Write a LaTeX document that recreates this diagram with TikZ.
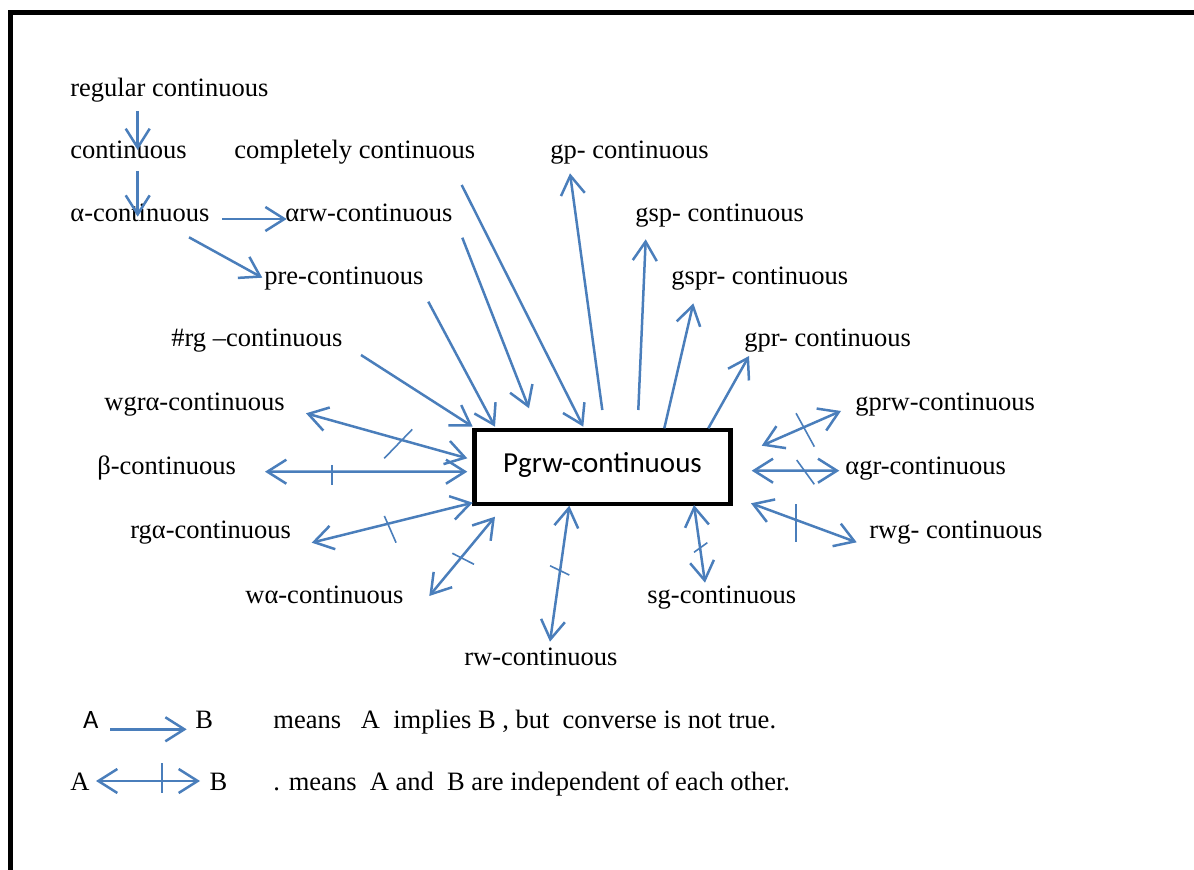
\documentclass[tikz,border=0pt]{standalone}
\usepackage{fontspec}
\setmainfont{Liberation Serif}
\newfontfamily\calibri{Carlito}
\usetikzlibrary{arrows.meta,calc}
\definecolor{linkblue}{HTML}{4A7EBB}
\newcommand\lblfont{\fontsize{13.25}{16}\selectfont}
\tikzset{
  lbl/.style={inner sep=0pt, anchor=base west, font=\lblfont},
  mainbox/.style={draw=black, line width=2.25pt, minimum width=128pt, minimum height=37pt, inner sep=0pt,
    text height=8pt, text depth=2pt, font=\calibri\fontsize{14.5}{17}\selectfont},
  impl/.style={-{Straight Barb[length=9.5pt,width=12pt]}, line width=1.25pt, draw=linkblue},
  indep/.style={{Straight Barb[length=9.5pt,width=12pt]}-{Straight Barb[length=9.5pt,width=12pt]}, line width=1.25pt, draw=linkblue},
  tickmark/.style={line width=0.8pt, draw=linkblue},
  outerframe/.style={line width=2.5pt, draw=black}
}

\begin{document}
\begin{tikzpicture}[x=0.5pt, y=-0.5pt]
  \useasboundingbox (0,0) rectangle (1194,870);
  \draw[outerframe] (10.5,870) -- (10.5,12.5) -- (1194,12.5);

  % left side
  \node[lbl] (reg) at (70,97) {regular continuous};
  \node[lbl] (cont) at (70,159) {continuous};
  \node[lbl] (alpha) at (70,222) {α-continuous};
  \node[lbl] (arw) at (285,222) {αrw-continuous};
  \node[lbl] (pre) at (264,285) {pre-continuous};
  \node[lbl] (comp) at (234,159) {completely continuous};
  \node[lbl] (hrg) at (171,347) {\#rg --continuous};
  \node[lbl] (wgra) at (104,411) {wgrα-continuous};
  \node[lbl] (beta) at (97,475) {β-continuous};
  \node[lbl] (rga) at (130,539) {rgα-continuous};
  \node[lbl] (wa) at (245,604) {wα-continuous};
  \node[lbl] (rw) at (464,666) {rw-continuous};
  \node[lbl] (sg) at (647,604) {sg-continuous};
  % right side
  \node[lbl] (gp) at (550,159) {gp- continuous};
  \node[lbl] (gsp) at (635,222) {gsp- continuous};
  \node[lbl] (gspr) at (671,285) {gspr- continuous};
  \node[lbl] (gpr) at (744,347) {gpr- continuous};
  \node[lbl] (gprw) at (855,411) {gprw-continuous};
  \node[lbl] (agr) at (845,475) {αgr-continuous};
  \node[lbl] (rwg) at (869,539) {rwg- continuous};

  \node[mainbox] (box) at (602.5,467) {Pgrw-continuous};

  % implications
  \draw[impl] ($(reg.base west)+(67.7,14)$) -- ($(cont.base west)+(67.7,-9)$);
  \draw[impl] ($(cont.base west)+(67.7,12)$) -- ($(alpha.base west)+(67.7,-5.3)$);
  \draw[impl] ($(alpha.base west)+(152.3,-3)$) -- ($(arw.base west)+(1.7,-3)$);
  \draw[impl] ($(alpha.base west)+(119,15.3)$) -- ($(pre.base west)+(-1.7,-7.3)$);
  \draw[impl] ($(comp.base west)+(227.7,26)$) -- ($(box)+(-19.2,-40.3)$);
  \draw[impl] ($(arw.base west)+(177.3,15.7)$) -- ($(box)+(-73.5,-58.7)$);
  \draw[impl] ($(pre.base west)+(164.3,16.7)$) -- ($(box)+(-107.5,-40.3)$);
  \draw[impl] ($(hrg.base west)+(190,8)$) -- ($(box)+(-129.8,-40.3)$);
  \draw[impl] ($(box)+(-0.2,-57)$) -- ($(gp.base west)+(20,14.3)$);
  \draw[impl] ($(box)+(35.8,-57)$) -- ($(gsp.base west)+(10.7,17.3)$);
  \draw[impl] ($(box)+(61.8,-38.7)$) -- ($(gspr.base west)+(22.3,18.3)$);
  \draw[impl] ($(box)+(105.8,-38.7)$) -- ($(gpr.base west)+(5,9)$);

  % independent pairs
  \draw[indep] ($(wgra.base west)+(202,2.3)$) -- coordinate[pos=.572] (t1) ($(box)+(-135.2,-8.7)$);
  \draw[tickmark] ($(t1)+(-14,19.3)$) -- ++(28,-29);
  \draw[indep] ($(beta.base west)+(168,-3.3)$) -- coordinate[pos=.33] (t2) ($(box)+(-135.2,4.7)$);
  \draw[tickmark] ($(t2)+(0,-6.7)$) -- ++(0,20);
  \draw[indep] ($(rga.base west)+(181.7,3.7)$) -- coordinate[pos=.488] (t3) ($(box)+(-129.8,35.7)$);
  \draw[tickmark] ($(t3)+(-5.9,-7.2)$) -- ++(11.7,26.7);
  \draw[indep] ($(wa.base west)+(184.3,-8)$) -- coordinate[pos=.516] (t4) ($(box)+(-107.5,49.7)$);
  \draw[tickmark] ($(t4)+(-10.9,-1.8)$) -- ++(21.7,11);
  \draw[indep] ($(rw.base west)+(86,-24.3)$) -- coordinate[pos=.524] (t5) ($(box)+(-33.2,38.7)$);
  \draw[tickmark] ($(t5)+(-10.1,-4.7)$) -- ++(19.3,9.3);
  \draw[indep] ($(sg.base west)+(58,-21.3)$) -- coordinate[pos=.453] (t6) ($(box)+(91.5,38)$);
  \draw[tickmark] ($(t6)+(-6,4.8)$) -- ++(13.3,-9.6);
  \draw[indep] ($(box)+(159.2,-21.3)$) -- coordinate[pos=.549] (t7) ($(gprw.base west)+(-14,0)$);
  \draw[tickmark] ($(t7)+(-9.2,-13.4)$) -- ++(18.3,33.4);
  \draw[indep] ($(box)+(149.2,3.7)$) -- coordinate[pos=.614] (t8) ($(agr.base west)+(-5.7,-4.3)$);
  \draw[tickmark] ($(t8)+(-8.8,-10.7)$) -- ++(17.6,24.3);
  \draw[indep] ($(box)+(148.5,36.3)$) -- coordinate[pos=.426] (t9) ($(rwg.base west)+(-12.3,3.3)$);
  \draw[tickmark] ($(t9)+(0,-15.9)$) -- ++(0,37.7);

  % key
  \node[lbl, font=\lblfont\calibri] (ka) at (82.7,729) {A};
  \node[lbl] (kb) at (195,729) {B};
  \node[lbl] (kimp) at (273,729) {means\ \ \ A\ \ implies B , but\ \ converse is not true.};
  \node[lbl] (kc) at (70,791) {A};
  \node[lbl] (kd) at (209.3,791) {B};
  \node[lbl] (kind) at (273,791) {. means\ \ A and\ \ B are independent of each other.};
  \draw[impl] ($(ka.base west)+(27.3,0.3)$) -- ($(kb.base west)+(-8.3,0.3)$);
  \draw[indep] ($(kc.base west)+(26,-10)$) -- coordinate[pos=.632] (t10) ($(kd.base west)+(-9.3,-10)$);
  \draw[tickmark] ($(t10)+(0,-17.7)$) -- ++(0,29.4);
\end{tikzpicture}
\end{document}
